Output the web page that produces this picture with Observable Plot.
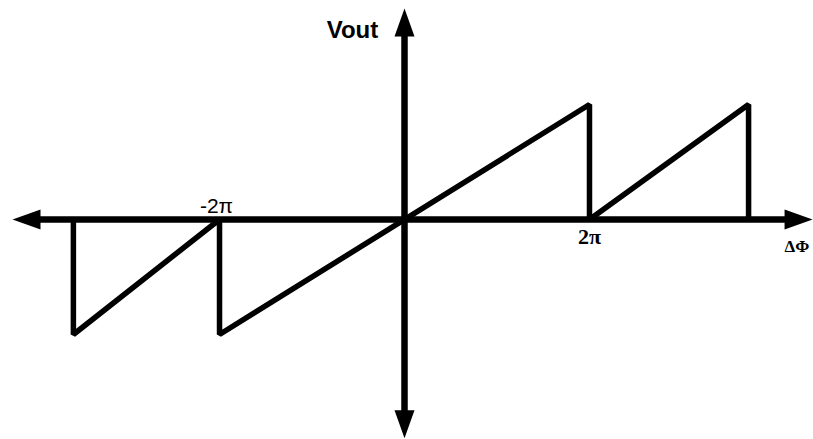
<!DOCTYPE html>
<html>
<head>
<meta charset="utf-8">
<script src="https://cdn.jsdelivr.net/npm/d3@7"></script>
<script src="https://cdn.jsdelivr.net/npm/@observablehq/plot@0.6"></script>
<style>
  html, body { margin: 0; padding: 0; background: #fff; }
  #chart svg { display: block; }
</style>
</head>
<body>
<div id="chart"></div>
<script>
// Phase difference ΔΦ (in multiples of π) and output voltage of the sawtooth
const phase = [-3.58, -3.58, -2, -2, 2, 2, 3.72, 3.72];
const vout  = [0, -1, 0, -1, 1, 0, 1, 0];

// Tick labels on the phase axis
const tickPhase  = [-2, 2];
const tickLabels = ["-2π", "2π"];

// Axis titles
const xTitle = "ΔΦ";
const yTitle = "Vout";

const W = 813, H = 439;
const xDomain = [-4.368, 4.422];
const yDomain = [-1.913, 1.904];

const rows = phase.map((p, i) => ({p, v: vout[i]}));
const ticks = tickPhase.map((p, i) => ({p, label: tickLabels[i]}));

// Filled arrowhead symbol, tip at the anchor point
function arrowHead(dir) {
  const L = 28, w = 10;
  return {
    draw(ctx) {
      const pts = {
        up:    [[0, 0], [w, L], [-w, L]],
        down:  [[0, 0], [w, -L], [-w, -L]],
        left:  [[0, 0], [L, -w], [L, w]],
        right: [[0, 0], [-L, -w], [-L, w]]
      }[dir];
      ctx.moveTo(...pts[0]);
      ctx.lineTo(...pts[1]);
      ctx.lineTo(...pts[2]);
      ctx.closePath();
    }
  };
}

const xMin = xDomain[0] + 0.13, xMax = xDomain[1] - 0.01;
const yMax = yDomain[1] - 0.07, yMin = yDomain[0] + 0.01;

const chart = Plot.plot({
  width: W,
  height: H,
  margin: 0,
  x: {domain: xDomain, axis: null},
  y: {domain: yDomain, axis: null},
  marks: [
    // axes
    Plot.ruleY([0], {x1: xMin + 0.25, x2: xMax - 0.25, stroke: "black", strokeWidth: 6.5}),
    Plot.ruleX([0], {y1: yMin + 0.2, y2: yMax - 0.2, stroke: "black", strokeWidth: 6.5}),
    Plot.dot([0], {x: () => 0, y: () => yMax, symbol: arrowHead("up"), fill: "black", stroke: "none"}),
    Plot.dot([0], {x: () => 0, y: () => yMin, symbol: arrowHead("down"), fill: "black", stroke: "none"}),
    Plot.dot([0], {x: () => xMin, y: () => 0, symbol: arrowHead("left"), fill: "black", stroke: "none"}),
    Plot.dot([0], {x: () => xMax, y: () => 0, symbol: arrowHead("right"), fill: "black", stroke: "none"}),
    // sawtooth transfer curve
    Plot.line(rows, {x: "p", y: "v", stroke: "black", strokeWidth: 5.5, strokeLinejoin: "miter", strokeLinecap: "butt"}),
    // tick labels
    Plot.text(ticks.filter(d => d.p < 0), {x: "p", y: () => 0, text: "label", dy: -13, dx: -3,
      fontFamily: "Liberation Sans, Arial, sans-serif", fontSize: 21, fill: "black"}),
    Plot.text(ticks.filter(d => d.p > 0), {x: "p", y: () => 0, text: "label", dy: 17,
      fontFamily: "Liberation Serif, Times New Roman, serif", fontSize: 22, fontWeight: "bold", fill: "black"}),
    // axis titles
    Plot.text([yTitle], {x: () => 0, y: () => yMax, text: d => d, dx: -52, dy: 22,
      fontFamily: "Liberation Sans, Arial, sans-serif", fontSize: 24, fontWeight: "bold", fill: "black"}),
    Plot.text([xTitle], {x: () => xDomain[1], y: () => 0, text: d => d, dx: -29, dy: 27, textAnchor: "start",
      fontFamily: "Liberation Serif, Times New Roman, serif", fontSize: 17, fontWeight: "bold", fill: "black"})
  ]
});

document.getElementById("chart").appendChild(chart);
</script>
</body>
</html>
